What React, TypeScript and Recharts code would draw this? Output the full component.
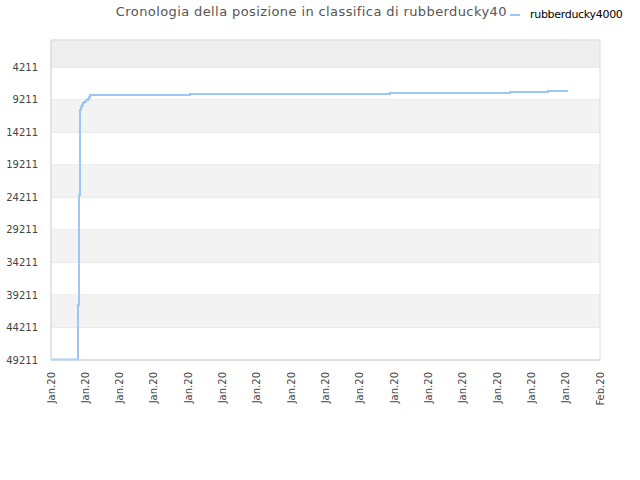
import React from "react";
import {
  LineChart,
  Line,
  XAxis,
  YAxis,
  CartesianGrid,
  ReferenceArea,
} from "recharts";

// x is the position on the date axis (one unit per tick), y is the rank
const positions = [
  0, 0.787, 0.816, 0.845, 0.875, 0.903, 0.932, 0.962, 1.02, 1.078, 1.11,
  1.137, 4.05, 9.88, 13.38, 14.48, 15.07,
];
const ranks = [
  49150, 40750, 23836, 10765, 10300, 9996, 9700, 9535, 9226, 9073, 8765,
  8458, 8304, 8150, 7996, 7842, 7842,
];
const dateLabels = [
  "Jan.20", "Jan.20", "Jan.20", "Jan.20", "Jan.20", "Jan.20", "Jan.20",
  "Jan.20", "Jan.20", "Jan.20", "Jan.20", "Jan.20", "Jan.20", "Jan.20",
  "Jan.20", "Jan.20", "Feb.20",
];
const rankTicks = [
  4211, 9211, 14211, 19211, 24211, 29211, 34211, 39211, 44211, 49211,
];
const seriesName = "rubberducky4000";
const title = "Cronologia della posizione in classifica di rubberducky4000";

const data = positions.map((t, i) => ({ t, rank: ranks[i] }));
const xTicks = dateLabels.map((_, i) => i);
const xMax = dateLabels.length - 1;
const yMax = rankTicks[rankTicks.length - 1];
const font = "'DejaVu Sans', sans-serif";
const lineColor = "#9ac7f3";

const XTick = ({ x, y, payload }: any) => (
  <g transform={`translate(${x},${y}) rotate(-90)`}>
    <text
      x={0}
      y={0}
      dy="0.35em"
      textAnchor="end"
      fontSize={10}
      fontFamily={font}
      fill="#444"
    >
      {dateLabels[payload.value]}
    </text>
  </g>
);

const App = () => {
  const bands: [number, number][] = [];
  for (let i = 1; i + 1 < rankTicks.length; i += 2) {
    bands.push([rankTicks[i], rankTicks[i + 1]]);
  }

  return (
    <div
      style={{
        position: "absolute",
        left: 0,
        top: 0,
        width: 640,
        height: 480,
        fontFamily: font,
      }}
    >
      <LineChart
        width={640}
        height={480}
        data={data}
        margin={{ top: 40, right: 40, bottom: 60, left: 0 }}
      >
        <ReferenceArea y1={0} y2={rankTicks[0]} fill="#eeeeee" fillOpacity={1} stroke="none" />
        {bands.map(([a, b]) => (
          <ReferenceArea key={a} y1={a} y2={b} fill="#f3f3f3" fillOpacity={1} stroke="none" />
        ))}
        <CartesianGrid vertical={false} stroke="#e0e0e0" />
        <ReferenceArea
          x1={0}
          x2={xMax}
          y1={0}
          y2={yMax}
          fill="none"
          fillOpacity={0}
          stroke="#dcdcdc"
          strokeOpacity={1}
        />
        <XAxis
          dataKey="t"
          type="number"
          domain={[0, xMax]}
          ticks={xTicks}
          interval={0}
          tick={<XTick />}
          tickLine={false}
          tickSize={0}
          tickMargin={12}
          height={60}
          axisLine={{ stroke: "#dcdcdc" }}
        />
        <YAxis
          type="number"
          domain={[0, yMax]}
          reversed
          ticks={rankTicks}
          interval={0}
          width={51}
          tickLine={false}
          tickSize={0}
          tickMargin={13}
          axisLine={{ stroke: "#dcdcdc" }}
          tick={{ fontSize: 10, fill: "#444", fontFamily: font }}
        />
        <Line
          type="stepAfter"
          dataKey="rank"
          name={seriesName}
          stroke={lineColor}
          strokeWidth={2}
          dot={false}
          isAnimationActive={false}
        />
      </LineChart>
      <div
        style={{
          position: "absolute",
          top: 4,
          left: 0,
          width: 640,
          textAlign: "center",
          fontSize: 13,
          letterSpacing: 0.4,
          color: "#555",
          whiteSpace: "nowrap",
        }}
      >
        {title}
      </div>
      <div
        style={{
          position: "absolute",
          top: 0,
          left: 507,
          width: 133,
          height: 28,
          background: "#fff",
          display: "flex",
          alignItems: "center",
        }}
      >
        <span
          style={{
            display: "inline-block",
            width: 10,
            height: 2,
            background: lineColor,
            marginLeft: 3,
            marginRight: 10,
            marginTop: 2,
          }}
        />
        <span style={{ fontSize: 11, color: "#000", letterSpacing: -0.3 }}>
          {seriesName}
        </span>
      </div>
    </div>
  );
};

export default App;
